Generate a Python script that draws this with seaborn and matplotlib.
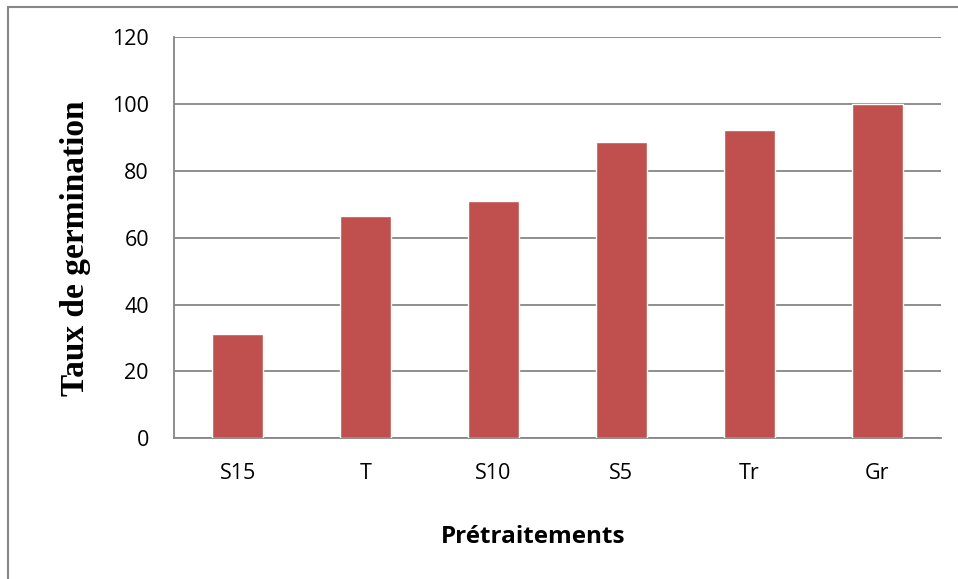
import matplotlib
matplotlib.use("Agg")
import matplotlib.pyplot as plt
from matplotlib.lines import Line2D
import pandas as pd
import seaborn as sns

categories = ["S15", "T", "S10", "S5", "Tr", "Gr"]
taux = [31.1, 66.5, 70.9, 88.7, 92.2, 100.0]
y_ticks = [0, 20, 40, 60, 80, 100, 120]

df = pd.DataFrame({"Prétraitements": categories, "Taux de germination": taux})

sns.set_theme(style="white")
plt.rcParams["font.family"] = ["Open Sans", "DejaVu Sans"]

grey = "#868686"
fig = plt.figure(figsize=(9.58, 5.79), dpi=100)
ax = fig.add_axes([0.1816, 0.2430, 0.8007, 0.6926])

sns.barplot(data=df, x="Prétraitements", y="Taux de germination",
            color="#C0504D", width=0.4, saturation=1, ax=ax, zorder=3)

ax.set_ylim(0, 120)
ax.set_xlim(-0.5, len(categories) - 0.5)
ax.set_yticks(y_ticks)
ax.set_yticklabels([str(v) for v in y_ticks])
ax.yaxis.grid(True, color=grey, linewidth=1.3, zorder=0)
ax.set_axisbelow(True)

# category separators as ticks on the x axis
ax.set_xticks([i - 0.5 for i in range(len(categories) + 1)], minor=True)
ax.tick_params(axis="x", which="minor", length=6, width=1.3, color=grey, direction="out")
ax.tick_params(axis="x", which="major", length=0, pad=18, labelsize=15.5, labelcolor="black")
ax.tick_params(axis="y", length=6, width=1.3, color=grey, direction="out", pad=12,
               labelsize=15.5, labelcolor="black")

for side in ["top", "right"]:
    ax.spines[side].set_visible(False)
for side in ["left", "bottom"]:
    ax.spines[side].set_color(grey)
    ax.spines[side].set_linewidth(1.3)

ax.set_xlabel("Prétraitements", fontsize=17.5, fontweight="bold", color="black")
ax.xaxis.set_label_coords(0.468, -0.246)
ax.xaxis.label.set_verticalalignment("center")
ax.set_ylabel("Taux de germination", fontsize=24, fontweight="bold", color="black",
              family=["Liberation Serif", "DejaVu Serif"])
ax.yaxis.set_label_coords(-0.129, 0.475)
ax.yaxis.label.set_verticalalignment("center")

# chart frame
fig.add_artist(Line2D([0.0085, 1.0], [1 - 7 / 579, 1 - 7 / 579], color=grey, linewidth=1.5,
                      transform=fig.transFigure))
fig.add_artist(Line2D([0.0085, 0.0085], [0.0, 1 - 7 / 579], color=grey, linewidth=1.5,
                      transform=fig.transFigure))

fig.savefig("out.png", dpi=100)
